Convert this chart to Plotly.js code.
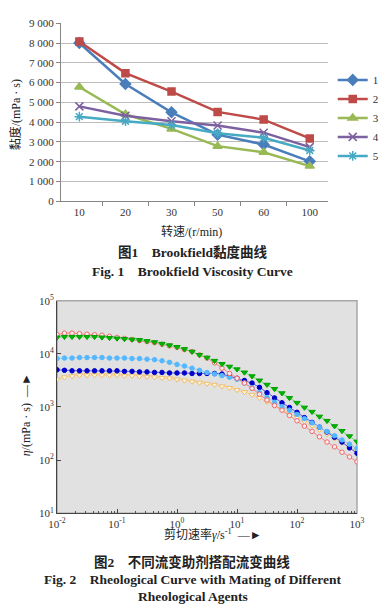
<!DOCTYPE html>
<html>
<head>
<meta charset="utf-8">
<script src="https://cdn.plot.ly/plotly-3.0.1.min.js"></script>
<style>html,body{margin:0;padding:0;background:#fff;}#chart{width:386px;height:611px;}</style>
</head>
<body>
<div id="chart"></div>
<script>
// ---------- Figure 1: Brookfield viscosity ----------
const speedCats = ["10", "20", "30", "50", "60", "100"];
const bf1 = [8000, 5930, 4500, 3370, 2870, 2020];
const bf2 = [8080, 6480, 5550, 4520, 4130, 3180];
const bf3 = [5780, 4400, 3660, 2790, 2480, 1780];
const bf4 = [4800, 4330, 4050, 3830, 3470, 2740];
const bf5 = [4280, 4050, 3860, 3440, 3210, 2570];
const bfNames = ["1", "2", "3", "4", "5"];
const bfTickVals = [0, 1000, 2000, 3000, 4000, 5000, 6000, 7000, 8000, 9000];
const bfTickText = ["0", "1 000", "2 000", "3 000", "4 000", "5 000", "6 000", "7 000", "8 000", "9 000"];

// ---------- Figure 2: rheological curves ----------
const shearRate = [0.01, 0.0133, 0.0178, 0.0237, 0.0316, 0.0422, 0.0562, 0.075,
  0.1, 0.133, 0.178, 0.237, 0.316, 0.422, 0.562, 0.75,
  1, 1.33, 1.78, 2.37, 3.16, 4.22, 5.62, 7.5,
  10, 13.3, 17.8, 23.7, 31.6, 42.2, 56.2, 75,
  100, 133, 178, 237, 316, 422, 562, 750, 1000];
const etaRed = [22900, 24500, 24500, 24000, 23400, 22900, 22400, 21400,
  20400, 19500, 18600, 17800, 17000, 16200, 15100, 14100,
  13200, 12000, 11000, 9550, 8320, 6760, 5370, 4270,
  3470, 2820, 2240, 1740, 1350, 1070, 871, 692,
  550, 437, 347, 275, 219, 178, 141, 115, 93];
const etaGreen = [20400, 20900, 20900, 20900, 20900, 20900, 20400, 20000,
  19500, 19100, 18600, 18200, 17400, 16600, 15500, 14500,
  13500, 12300, 11000, 9550, 8510, 7410, 6460, 5750,
  5130, 4470, 3800, 3160, 2630, 2190, 1820, 1480,
  1200, 977, 813, 661, 550, 437, 355, 282, 224];
const etaLightBlue = [8130, 8320, 8320, 8510, 8510, 8510, 8510, 8320,
  8320, 8320, 8130, 8130, 7940, 7760, 7410, 6920,
  6310, 5890, 5370, 4900, 4470, 4170, 3890, 3630,
  3310, 2820, 2290, 1860, 1510, 1230, 1020, 871,
  724, 603, 501, 417, 347, 288, 240, 200, 166];
const etaDarkBlue = [5010, 4900, 4790, 4790, 4790, 4790, 4790, 4790,
  4790, 4680, 4680, 4570, 4570, 4470, 4470, 4370,
  4370, 4370, 4270, 4270, 4270, 4270, 4170, 3800,
  3470, 3160, 2820, 2340, 1860, 1480, 1200, 977,
  794, 631, 513, 417, 339, 269, 219, 170, 135];
const etaOrange = [3310, 3630, 3800, 3980, 3980, 3980, 3980, 3980,
  3980, 3890, 3890, 3800, 3720, 3630, 3550, 3470,
  3310, 3160, 3020, 2880, 2750, 2630, 2450, 2290,
  2090, 1910, 1700, 1480, 1260, 1070, 912, 759,
  646, 537, 447, 372, 309, 257, 214, 178, 151];
const rxTickVals = [0.01, 0.1, 1, 10, 100, 1000];
const rxTickText = ["10<sup>-2</sup>", "10<sup>-1</sup>", "10<sup>0</sup>", "10<sup>1</sup>", "10<sup>2</sup>", "10<sup>3</sup>"];
const ryTickVals = [10, 100, 1000, 10000, 100000];
const ryTickText = ["10<sup>1</sup>", "10<sup>2</sup>", "10<sup>3</sup>", "10<sup>4</sup>", "10<sup>5</sup>"];

const SERIF = "Liberation Serif, Times New Roman, Noto Sans CJK SC, serif";
const CJK = "Liberation Serif, Noto Sans CJK SC, sans-serif";

const bfStyles = [
  {color: "#4a7ebb", symbol: "diamond", size: 8},
  {color: "#be4b48", symbol: "square", size: 7},
  {color: "#98b954", symbol: "triangle-up", size: 8},
  {color: "#7d60a0", symbol: "x-thin-open", size: 8},
  {color: "#46aac5", symbol: "asterisk-open", size: 8}
];
const bfSeries = [bf1, bf2, bf3, bf4, bf5];
const traces = bfSeries.map((vals, i) => ({
  type: "scatter", mode: "lines+markers", x: speedCats, y: vals, name: bfNames[i],
  xaxis: "x", yaxis: "y",
  line: {color: bfStyles[i].color, width: 2.5},
  marker: {symbol: bfStyles[i].symbol, size: bfStyles[i].size, color: bfStyles[i].color,
           line: {color: bfStyles[i].color, width: 1.5}}
}));

const rheo = [
  {y: etaRed, line: "#f08a8a", mcol: "rgba(255,240,240,0.9)", mline: "#ee6a6a", sym: "circle", size: 4.5},
  {y: etaGreen, line: "#70d870", mcol: "#00b400", mline: "#00a000", sym: "triangle-down", size: 5.5},
  {y: etaLightBlue, line: "#8ccfff", mcol: "#55b8ff", mline: "#55b8ff", sym: "circle", size: 4.5},
  {y: etaDarkBlue, line: "#5a5ae0", mcol: "#0000cc", mline: "#0000cc", sym: "circle", size: 4.5},
  {y: etaOrange, line: "#f8d49a", mcol: "rgba(255,248,230,0.9)", mline: "#f2bc66", sym: "triangle-down", size: 5.5}
];
const order = [4, 3, 2, 0, 1];
order.forEach(i => {
  const s = rheo[i];
  traces.push({
    type: "scatter", mode: "lines+markers", x: shearRate, y: s.y, showlegend: false,
    xaxis: "x2", yaxis: "y2",
    line: {color: s.line, width: 1},
    marker: {symbol: s.sym, size: s.size, color: s.mcol, line: {color: s.mline, width: 1}}
  });
});

const ann = (text, x, y, size, extra) => Object.assign({
  text: text, xref: "paper", yref: "paper", x: x, y: y, xanchor: "center", yanchor: "middle",
  showarrow: false, font: {family: CJK, size: size, color: "#222"}
}, extra || {});

const layout = {
  width: 386, height: 611,
  margin: {l: 0, r: 0, t: 0, b: 0},
  paper_bgcolor: "#ffffff", plot_bgcolor: "#ffffff",
  showlegend: true,
  legend: {x: 0.862, y: 0.893, xanchor: "left", yanchor: "top", bgcolor: "rgba(0,0,0,0)",
           font: {family: SERIF, size: 11, color: "#333"}, tracegroupgap: 0},
  xaxis: {domain: [0.158, 0.850], anchor: "y", type: "category", tickson: "boundaries",
          ticks: "outside", ticklen: 4, tickcolor: "#868686", showline: true, linecolor: "#868686",
          showgrid: false, zeroline: false, tickfont: {family: SERIF, size: 11, color: "#333"}, fixedrange: true},
  yaxis: {domain: [0.6705, 0.9619], anchor: "x", range: [0, 9000], tickmode: "array",
          tickvals: bfTickVals, ticktext: bfTickText, showgrid: true, gridcolor: "#bcbcbc",
          showline: true, linecolor: "#868686", ticks: "outside", ticklen: 4, tickcolor: "#868686",
          zeroline: false, tickfont: {family: SERIF, size: 11, color: "#333"}, fixedrange: true},
  xaxis2: {domain: [0.1477, 0.9249], anchor: "y2", type: "log", range: [-2, 3], tickmode: "array",
           tickvals: rxTickVals, ticktext: rxTickText, ticks: "inside", ticklen: 4, tickcolor: "#444",
           showline: true, linecolor: "#444", linewidth: 1, showgrid: false, zeroline: false,
           minor: {ticks: "inside", ticklen: 2, tickcolor: "#555", dtick: "D1", showgrid: false},
           tickfont: {family: SERIF, size: 11, color: "#333"}, fixedrange: true},
  yaxis2: {domain: [0.1599, 0.5079], anchor: "x2", type: "log", range: [1, 5], tickmode: "array",
           tickvals: ryTickVals, ticktext: ryTickText, ticks: "inside", ticklen: 4, tickcolor: "#444",
           showline: true, linecolor: "#444", linewidth: 1, showgrid: false, zeroline: false,
           tickfont: {family: SERIF, size: 11, color: "#333"}, fixedrange: true},
  shapes: [{type: "rect", xref: "x2 domain", yref: "y2 domain", x0: 0, x1: 1, y0: 0, y1: 1,
            fillcolor: "#e1e1e1", line: {color: "#a8a8a8", width: 1.5}, layer: "below"}],
  annotations: [
    ann("黏度/(mPa · s)", 0.040, 0.812, 12, {textangle: -90}),
    ann("转速/(r/min)", 0.495, 0.621, 12),
    ann("<b>图1　Brookfield黏度曲线</b>", 0.499, 0.588, 13.5),
    ann("<b>Fig. 1　Brookfield Viscosity Curve</b>", 0.499, 0.555, 13.5),
    ann("<i>η</i>/(mPa · s)  —►", 0.066, 0.321, 12, {textangle: -90}),
    ann("剪切速率<i>γ̇</i>/s<sup>-1</sup>  —►", 0.552, 0.126, 12),
    ann("<b>图2　不同流变助剂搭配流变曲线</b>", 0.497, 0.080, 13.5),
    ann("<b>Fig. 2　Rheological Curve with Mating of Different</b>", 0.499, 0.052, 13.5),
    ann("<b>Rheological Agents</b>", 0.500, 0.023, 13.5)
  ]
};

Plotly.newPlot("chart", traces, layout, {staticPlot: true, displayModeBar: false});
</script>
</body>
</html>
